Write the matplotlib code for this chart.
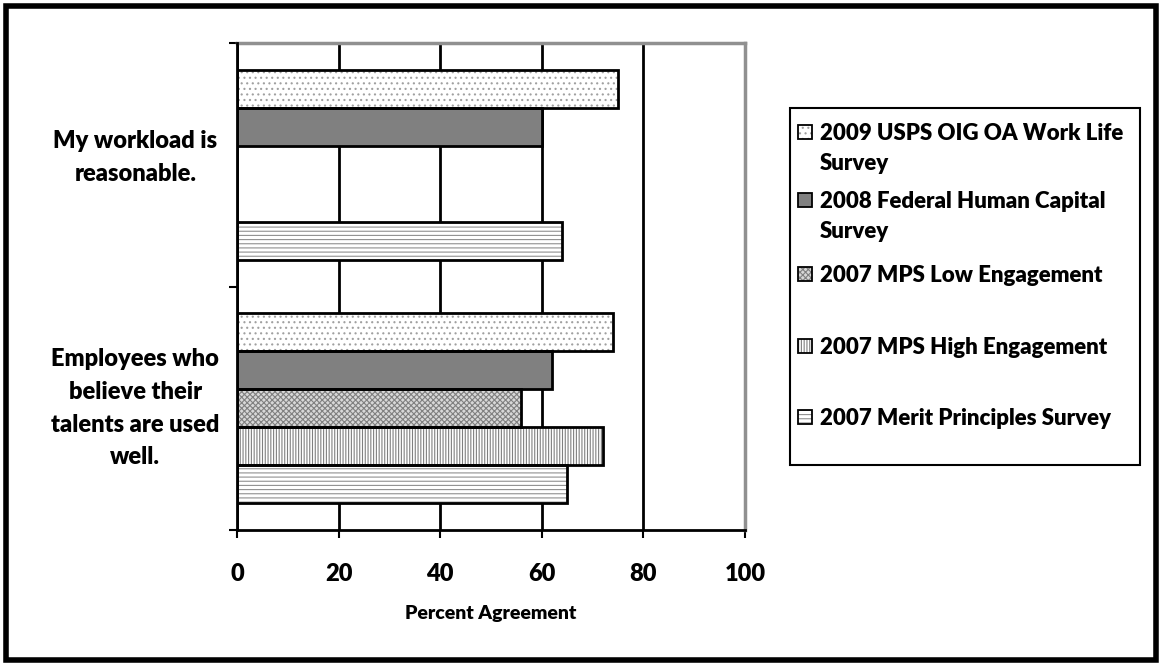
import numpy as np
import matplotlib.pyplot as plt
from matplotlib.patches import Rectangle

plt.rcParams['font.family'] = ['Lato', 'DejaVu Sans']
plt.rcParams['font.weight'] = 'heavy'
plt.rcParams['hatch.linewidth'] = 0.8

questions = ["My workload is\nreasonable.",
             "Employees who\nbelieve their\ntalents are used\nwell."]

series = ["2009 USPS OIG OA Work Life\nSurvey",
          "2008 Federal Human Capital\nSurvey",
          "2007 MPS Low Engagement",
          "2007 MPS High Engagement",
          "2007 Merit Principles Survey"]

# percent agreement per question, nan = not asked
usps_2009 = [75, 74]
fhcs_2008 = [60, 62]
mps_low = [np.nan, 56]
mps_high = [np.nan, 72]
mps_2007 = [64, 65]

values = [usps_2009, fhcs_2008, mps_low, mps_high, mps_2007]

# fill, hatch, hatch colour
styles = [("white", "...", "#a0a0a0"),
          ("#808080", "", "#808080"),
          ("#d8d8d8", "xxxxxx", "#808080"),
          ("white", "||||||", "#808080"),
          ("white", "----", "#909090")]

fig = plt.figure(figsize=(11.62, 6.66), dpi=100)
ax = fig.add_axes([237/1162, 1-530/666, 508/1162, 487/666])

y = np.arange(len(questions))
h = 0.156

for i, vals in enumerate(values):
    fc, hatch, hc = styles[i]
    pos = y + (i - 2) * h
    ax.barh(pos, vals, height=h, color=fc, hatch=hatch,
            edgecolor=hc, linewidth=0, zorder=3)
    ax.barh(pos, vals, height=h, fill=False,
            edgecolor="black", linewidth=2, zorder=4)

ax.set_xlim(0, 100)
ax.set_ylim(1.5, -0.5)
ax.set_xticks([0, 20, 40, 60, 80, 100])
ax.tick_params(axis='x', labelsize=17, length=6, width=1.5, pad=18)
ax.set_yticks([-0.5, 0.5, 1.5])
ax.set_yticklabels([])
ax.tick_params(axis='y', length=6, width=1.5)

ax.grid(axis='x', color='black', linewidth=2, zorder=1)

for s in ['left', 'bottom']:
    ax.spines[s].set_linewidth(2)
    ax.spines[s].set_zorder(5)
for s in ['top', 'right']:
    ax.spines[s].set_color('#909090')
    ax.spines[s].set_linewidth(2.5)

ax.set_xlabel("Percent Agreement", fontsize=14, fontweight='heavy', labelpad=14)

for yi, q in zip(y, questions):
    ax.text(-0.2, yi - (0.03 if yi == 0 else 0), q, transform=ax.get_yaxis_transform(),
            ha='center', va='center', fontsize=17, linespacing=1.6)

# legend drawn by hand
W, H = 1162, 666
fig.patches.append(Rectangle((790/W, 1-465/H), 350/W, 357/H, transform=fig.transFigure,
                             fill=False, edgecolor='black', linewidth=1.5))
first_lines = [132, 200, 274, 346, 417]
for i, lab in enumerate(series):
    fc, hatch, hc = styles[i]
    yy = 1 - first_lines[i]/H
    fig.patches.append(Rectangle((798/W, yy - 7/H), 14/W, 14/H, transform=fig.transFigure,
                                 facecolor=fc, hatch=hatch, edgecolor=hc, linewidth=0))
    fig.patches.append(Rectangle((798/W, yy - 7/H), 14/W, 14/H, transform=fig.transFigure,
                                 fill=False, edgecolor='black', linewidth=1.3))
    fig.text(820/W, yy + 9/H, lab, ha='left', va='top', fontsize=16, linespacing=1.55)

# outer frame
fig.patches.append(Rectangle((6/W, 6/H), 1150/W, 654/H, transform=fig.transFigure,
                             fill=False, edgecolor='black', linewidth=4))

fig.savefig("out.png", dpi=100)
